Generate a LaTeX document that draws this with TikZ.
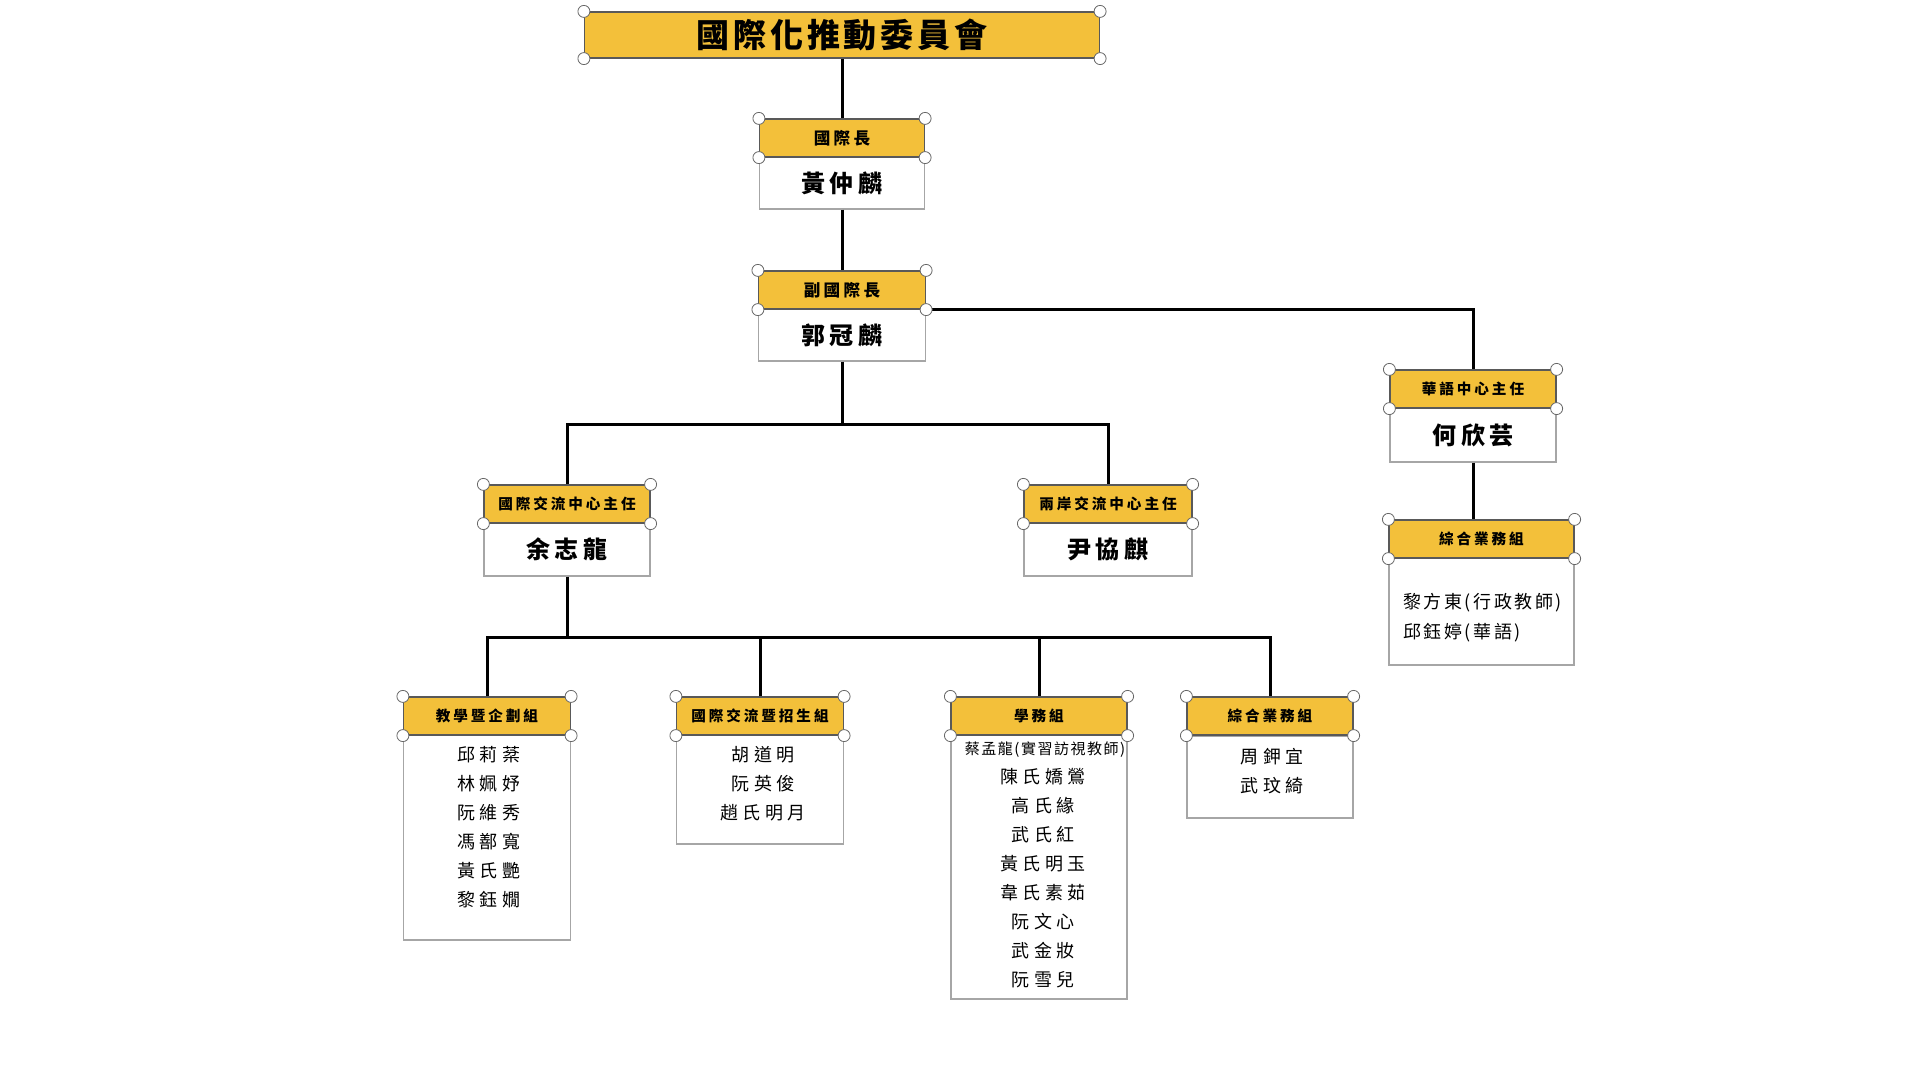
\documentclass[tikz,border=0pt]{standalone}
\usepackage{fontspec}
\newfontfamily\cjkT{Noto Sans CJK TC}[LetterSpace=12]
\newfontfamily\cjkH{Noto Sans CJK TC}[LetterSpace=20]
\newfontfamily\cjkN{Noto Sans CJK TC}[LetterSpace=20]
\newfontfamily\cjkL{Noto Sans CJK TC}[LetterSpace=24]
\newfontfamily\cjkS{Noto Sans CJK TC}[LetterSpace=10]
\newfontfamily\cjkR{Noto Sans CJK TC}[LetterSpace=14]
\definecolor{gold}{RGB}{243,192,58}
\begin{document}
\begin{tikzpicture}[x=0.5pt,y=-0.5pt,
  hdr/.style={draw=black!65, line width=0.6pt, fill=gold, inner sep=0pt, minimum height=19pt},
  bodybox/.style={draw=gray!70, line width=0.7pt, fill=white, inner sep=0pt},
  handle/.style={circle, draw=black!60, fill=white, line width=0.4pt, inner sep=0pt, minimum size=6pt},
  conn/.style={line width=1.5pt, draw=black},
  hfont/.style={font=\cjkH\bfseries\fontsize{7.3}{8}\selectfont},
  hbig/.style={font=\cjkH\bfseries\fontsize{8.3}{9}\selectfont},
  nfont/.style={font=\cjkN\bfseries\fontsize{12}{14}\selectfont},
  lfont/.style={font=\cjkL\fontsize{9}{14.5}\selectfont, align=center, inner sep=0pt},
]
\useasboundingbox (0,0) rectangle (1920,1080);
% top
\node[hdr, minimum width=257.5pt, minimum height=23pt, font=\cjkT\bfseries\fontsize{16.5}{18}\selectfont] (top) at (842,35) {國際化推動委員會};
% level 1
\node[bodybox, minimum width=82.5pt, minimum height=26pt, nfont] (b1) at (842,183) {黃仲麟};
\node[hdr, minimum width=82.5pt, hbig] (h1) at (842,138) {國際長};
% level 2
\node[bodybox, minimum width=83.5pt, minimum height=26pt, nfont] (b2) at (842,335) {郭冠麟};
\node[hdr, minimum width=83.5pt, hbig] (h2) at (842,290) {副國際長};
% chinese center
\node[bodybox, minimum width=83pt, minimum height=27pt, nfont] (b3) at (1473,435) {何欣芸};
\node[hdr, minimum width=83pt, hfont] (h3) at (1473,389) {華語中心主任};
\node[bodybox, minimum width=92.5pt, minimum height=53.5pt] (b4) at (1481.5,611.5) {};
\node[hdr, minimum width=92.5pt, hfont] (h4) at (1481.5,539) {綜合業務組};
\node[font=\cjkR\fontsize{9}{15}\selectfont, align=left, inner sep=0pt, anchor=north west] (t4) at (1403,593) {黎方東(行政教師)\\邱鈺婷(華語)};
% level 3
\node[bodybox, minimum width=83pt, minimum height=26.5pt, nfont] (b5) at (567,549.5) {余志龍};
\node[hdr, minimum width=83pt, hfont] (h5) at (567,504) {國際交流中心主任};
\node[bodybox, minimum width=84pt, minimum height=26.5pt, nfont] (b6) at (1108,549.5) {尹協麒};
\node[hdr, minimum width=84pt, hfont] (h6) at (1108,504) {兩岸交流中心主任};
% level 4
\node[bodybox, minimum width=83.5pt, minimum height=102.5pt] (b7) at (487,837.5) {};
\node[hdr, minimum width=83.5pt, hfont] (h7) at (487,716) {教學暨企劃組};
\node[lfont, anchor=north] (t7) at (489,746) {邱莉棻\\林姵妤\\阮維秀\\馮鄯寬\\黃氏艷\\黎鈺嫺};
\node[bodybox, minimum width=83.5pt, minimum height=54.5pt] (b8) at (760,789.5) {};
\node[hdr, minimum width=83.5pt, hfont] (h8) at (760,716) {國際交流暨招生組};
\node[lfont, anchor=north] (t8) at (763,746) {胡道明\\阮英俊\\趙氏明月};
\node[bodybox, minimum width=88pt, minimum height=132pt] (b9) at (1039,867) {};
\node[hdr, minimum width=88pt, hfont] (h9) at (1039,716) {學務組};
\node[font=\cjkS\fontsize{7.5}{9}\selectfont, inner sep=0pt] (t9a) at (1045,750) {蔡孟龍(實習訪視教師)};
\node[lfont, anchor=north] (t9) at (1043,768) {陳氏嬌鶯\\高氏緣\\武氏紅\\黃氏明玉\\韋氏素茹\\阮文心\\武金妝\\阮雪兒};
\node[bodybox, minimum width=83pt, minimum height=41pt] (b10) at (1270,777) {};
\node[hdr, minimum width=83pt, hfont] (h10) at (1270,716) {綜合業務組};
\node[lfont, anchor=north] (t10) at (1272,748) {周鉀宜\\武玟綺};
% connectors
\coordinate (j1) at (842,424);
\coordinate (j2) at (567,637);
\draw[conn] (top.south) -- (h1.north);
\draw[conn] (b1.south) -- (h2.north);
\draw[conn] (h2.south east) -| (h3.north);
\draw[conn] (b3.south) -- (b3.south |- h4.north);
\draw[conn] (b2.south) -- (j1);
\draw[conn] (h5.north) |- (j1) -| (h6.north);
\draw[conn] (b5.south) -- (j2);
\draw[conn] (h7.north) |- (j2) -| (h10.north);
\draw[conn] (h8.north) -- (h8.north |- j2);
\draw[conn] (h9.north) -- (h9.north |- j2);
% handles
\foreach \n in {top,h1,h2,h3,h4,h5,h6,h7,h8,h9,h10}
  \foreach \a [count=\i] in {north west,north east,south west,south east}
    \node[handle] (\n-\i) at (\n.\a) {};
\end{tikzpicture}
\end{document}
